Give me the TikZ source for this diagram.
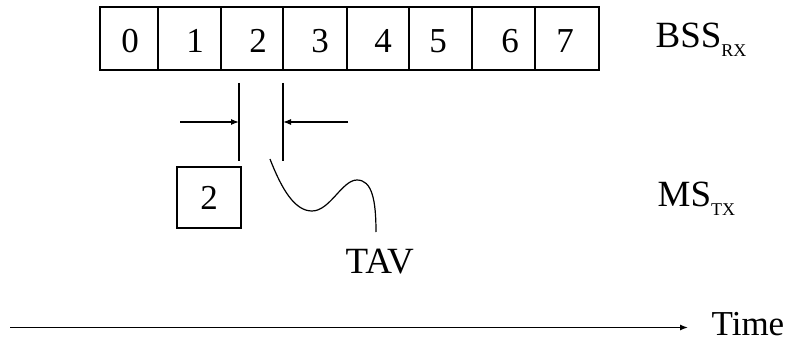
\documentclass[tikz,border=0pt]{standalone}
\usepackage{fontspec}
\setmainfont{Liberation Serif}
\usetikzlibrary{arrows.meta}
\newcommand{\sbs}[1]{\raisebox{-9pt}{\fontsize{18}{18}\selectfont #1}}
\begin{document}
\begin{tikzpicture}[x=1pt,y=-1pt,
  line width=1.2pt,
  cell/.style={draw, rectangle, inner sep=0pt, minimum height=63pt},
  digit/.style={anchor=base, inner sep=0pt, font=\fontsize{35}{35}\selectfont},
  lbl/.style={anchor=base west, inner sep=0pt, font=\fontsize{37}{37}\selectfont},
  arr/.style={-{Latex[length=8pt,width=6pt]}}]
\useasboundingbox (0,0) rectangle (792,339);

% slot row of the base station receiver
\node[cell, minimum width=58pt] (c0) at (129,38.5) {};
\node[cell, minimum width=63pt] (c1) at (189.5,38.5) {};
\node[cell, minimum width=62pt] (c2) at (252,38.5) {};
\node[cell, minimum width=64pt] (c3) at (315,38.5) {};
\node[cell, minimum width=62pt] (c4) at (378,38.5) {};
\node[cell, minimum width=63pt] (c5) at (440.5,38.5) {};
\node[cell, minimum width=63pt] (c6) at (503.5,38.5) {};
\node[cell, minimum width=64pt] (c7) at (567,38.5) {};
\node[digit] (d0) at (130,53) {0};
\node[digit] (d1) at (195,53) {1};
\node[digit] (d2) at (258,53) {2};
\node[digit] (d3) at (320,53) {3};
\node[digit] (d4) at (383,53) {4};
\node[digit] (d5) at (438,53) {5};
\node[digit] (d6) at (510,53) {6};
\node[digit] (d7) at (565,53) {7};
\node[lbl] (bss) at (655,48) {BSS\sbs{RX}};

% timing window markers
\coordinate (m1t) at (239,83);
\coordinate (m1b) at (239,161);
\coordinate (m2t) at (283,83);
\coordinate (m2b) at (283,161);
\draw (m1t) -- (m1b);
\draw (m2t) -- (m2b);
\coordinate (a1s) at (180,122);
\coordinate (a1e) at (239,122);
\coordinate (a2s) at (348,122);
\coordinate (a2e) at (283,122);
\draw[arr] (a1s) -- (a1e);
\draw[arr] (a2s) -- (a2e);

% mobile station burst
\node[draw, rectangle, inner sep=0pt, minimum width=64pt, minimum height=61pt] (ms) at (209,197.5) {};
\node[digit] (msd) at (209,210) {2};
\node[lbl] (mslbl) at (657,207) {MS\sbs{TX}};

% pointer to the timing advance value
\coordinate (cs) at (270,159);
\coordinate (ce) at (376,232);
\draw (cs) .. controls (282,190) and (295,211) .. (312,211)
           .. controls (330,211) and (342,180) .. (357,180)
           .. controls (372,180) and (376,200) .. (ce);
\node[lbl] (tav) at (345,273) {TAV};

% time axis
\coordinate (ts) at (10,327.5);
\coordinate (te) at (688,327.5);
\draw[arr] (ts) -- (te);
\node[lbl, font=\fontsize{35}{35}\selectfont] (time) at (711,335) {Time};
\end{tikzpicture}
\end{document}
